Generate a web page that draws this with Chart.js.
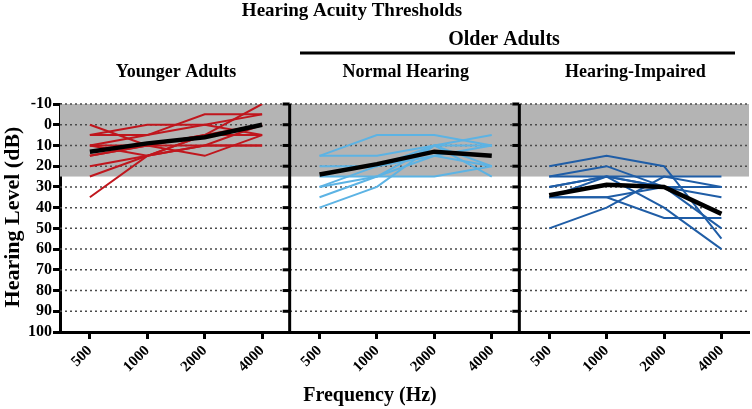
<!DOCTYPE html>
<html>
<head>
<meta charset="utf-8">
<script src="https://cdn.jsdelivr.net/npm/chart.js@4/dist/chart.umd.min.js"></script>
<style>
  html, body { margin: 0; padding: 0; background: #fff; }
  #wrap { width: 752px; height: 409px; position: relative; }
</style>
</head>
<body>
<div id="wrap"><canvas id="myChart"></canvas></div>
<script>
// Datos del gráfico
const freqLabels = ["500", "1000", "2000", "4000"];
const panelNames = ["Younger Adults", "Normal Hearing", "Hearing-Impaired"];
const yTicks = [-10, 0, 10, 20, 30, 40, 50, 60, 70, 80, 90, 100];

const youngerIndividual = [
  [0, 10, 5, 0],
  [5, 5, 0, -5],
  [5, 0, 0, 5],
  [10, 5, -5, -5],
  [10, 15, 10, 10],
  [15, 10, 15, 5],
  [15, 10, 10, 0],
  [20, 15, 5, 5],
  [25, 15, 10, 10],
  [35, 15, 5, -10],
  [10, 10, 5, 5]
];
const youngerMean = [13, 9, 6, 0];

const normalIndividual = [
  [15, 5, 5, 10],
  [15, 15, 10, 5],
  [20, 20, 10, 20],
  [25, 25, 25, 20],
  [30, 25, 10, 25],
  [30, 20, 15, 10],
  [35, 25, 15, 20],
  [40, 30, 10, 10]
];
const normalMean = [24, 19, 13, 15];

const impairedIndividual = [
  [20, 15, 20, 55],
  [25, 20, 30, 50],
  [25, 25, 25, 25],
  [30, 25, 30, 35],
  [35, 35, 45, 45],
  [35, 25, 40, 60],
  [50, 40, 25, 30],
  [35, 35, 30, 30],
  [30, 25, 30, 30]
];
const impairedMean = [34, 29, 30, 43];

const panelColors = ["#c0161d", "#5cb3e4", "#1f5da6"];
const panelGap = 4; // unidades del eje x por panel

// Construir datasets
const datasets = [];
[youngerIndividual, normalIndividual, impairedIndividual].forEach((group, p) => {
  group.forEach(vals => {
    datasets.push({
      data: vals.map((v, i) => ({ x: p * panelGap + i, y: v })),
      borderColor: panelColors[p],
      borderWidth: 2,
      pointRadius: 0,
      order: 2
    });
  });
});
[youngerMean, normalMean, impairedMean].forEach((vals, p) => {
  datasets.push({
    data: vals.map((v, i) => ({ x: p * panelGap + i, y: v })),
    borderColor: "#000",
    borderWidth: 4.5,
    pointRadius: 0,
    order: 1
  });
});

const tickPositions = [];
for (let p = 0; p < 3; p++) for (let i = 0; i < 4; i++) tickPositions.push(p * panelGap + i);

const SERIF = "'Liberation Serif', 'DejaVu Serif', serif";

const decorPlugin = {
  id: "decor",
  beforeDatasetsDraw(chart) {
    const { ctx, chartArea: a, scales: { y } } = chart;
    ctx.save();
    // banda gris de audición normal
    const yTop = y.getPixelForValue(-10), yBand = y.getPixelForValue(25);
    ctx.fillStyle = "#b4b4b4";
    ctx.fillRect(a.left, yTop, a.right - a.left, yBand - yTop);
    // líneas punteadas
    ctx.strokeStyle = "#4a4a4a";
    ctx.lineWidth = 1.5;
    ctx.setLineDash([2, 3]);
    yTicks.forEach(t => {
      if (t === 100) return;
      const py = y.getPixelForValue(t);
      ctx.beginPath();
      ctx.moveTo(a.left, py);
      ctx.lineTo(a.right, py);
      ctx.stroke();
    });
    ctx.restore();
  },
  afterDatasetsDraw(chart) {
    const { ctx, chartArea: a, scales: { x, y } } = chart;
    ctx.save();
    ctx.strokeStyle = "#000";
    ctx.setLineDash([]);
    for (let p = 1; p < 3; p++) {
      const px = x.getPixelForValue(p * panelGap - 0.52);
      ctx.lineWidth = 3;
      ctx.beginPath();
      ctx.moveTo(px, a.top);
      ctx.lineTo(px, a.bottom);
      ctx.stroke();
      yTicks.forEach(t => {
        if (t === 100) return;
        const py = y.getPixelForValue(t);
        ctx.beginPath();
        ctx.moveTo(px - 7, py);
        ctx.lineTo(px, py);
        ctx.stroke();
      });
    }
    // textos
    ctx.fillStyle = "#000";
    ctx.textAlign = "center";
    ctx.textBaseline = "middle";
    ctx.font = "bold 19px " + SERIF;
    ctx.fillText("Hearing Acuity Thresholds", 352, 11);
    ctx.font = "bold 20px " + SERIF;
    ctx.fillText("Older Adults", 504, 40);
    ctx.lineWidth = 3;
    ctx.beginPath();
    ctx.moveTo(300, 53);
    ctx.lineTo(735, 53);
    ctx.stroke();
    ctx.font = "bold 18px " + SERIF;
    panelNames.forEach((name, p) => {
      const cx = x.getPixelForValue(p * panelGap + 1.5);
      ctx.fillText(name, cx, 72);
    });
    ctx.font = "bold 20px " + SERIF;
    ctx.fillText("Frequency (Hz)", 370, 396);
    ctx.translate(13, 217);
    ctx.rotate(-Math.PI / 2);
    ctx.font = "bold 22px " + SERIF;
    ctx.fillText("Hearing Level (dB)", 0, 0);
    ctx.restore();
  }
};

const ctx = document.getElementById("myChart").getContext("2d");
new Chart(ctx, {
  type: "line",
  data: { datasets: datasets },
  options: {
    responsive: true,
    maintainAspectRatio: false,
    animation: false,
    layout: { padding: { top: 104, right: 3, left: 0, bottom: 0 } },
    plugins: { legend: { display: false }, tooltip: { enabled: false } },
    scales: {
      x: {
        type: "linear",
        min: -0.52,
        max: 2 * panelGap + 3.48,
        afterBuildTicks: scale => { scale.ticks = tickPositions.map(v => ({ value: v })); },
        afterFit: scale => { scale.height = 77; },
        ticks: {
          autoSkip: false,
          minRotation: 45,
          maxRotation: 45,
          color: "#000",
          font: { family: SERIF, weight: "bold", size: 15 },
          padding: 3,
          callback: v => freqLabels[Math.round(v) % panelGap]
        },
        grid: { drawOnChartArea: false, drawTicks: true, tickLength: 7, tickWidth: 3, tickColor: "#000" },
        border: { display: true, color: "#000", width: 3 }
      },
      y: {
        reverse: true,
        min: -10,
        max: 100,
        afterBuildTicks: scale => { scale.ticks = yTicks.map(v => ({ value: v })); },
        afterFit: scale => { scale.width = 60; },
        ticks: {
          autoSkip: false,
          color: "#000",
          font: { family: SERIF, weight: "bold", size: 16 },
          padding: 1
        },
        grid: { drawOnChartArea: false, drawTicks: true, tickLength: 7, tickWidth: 3, tickColor: "#000" },
        border: { display: true, color: "#000", width: 3 }
      }
    }
  },
  plugins: [decorPlugin]
});
</script>
</body>
</html>
